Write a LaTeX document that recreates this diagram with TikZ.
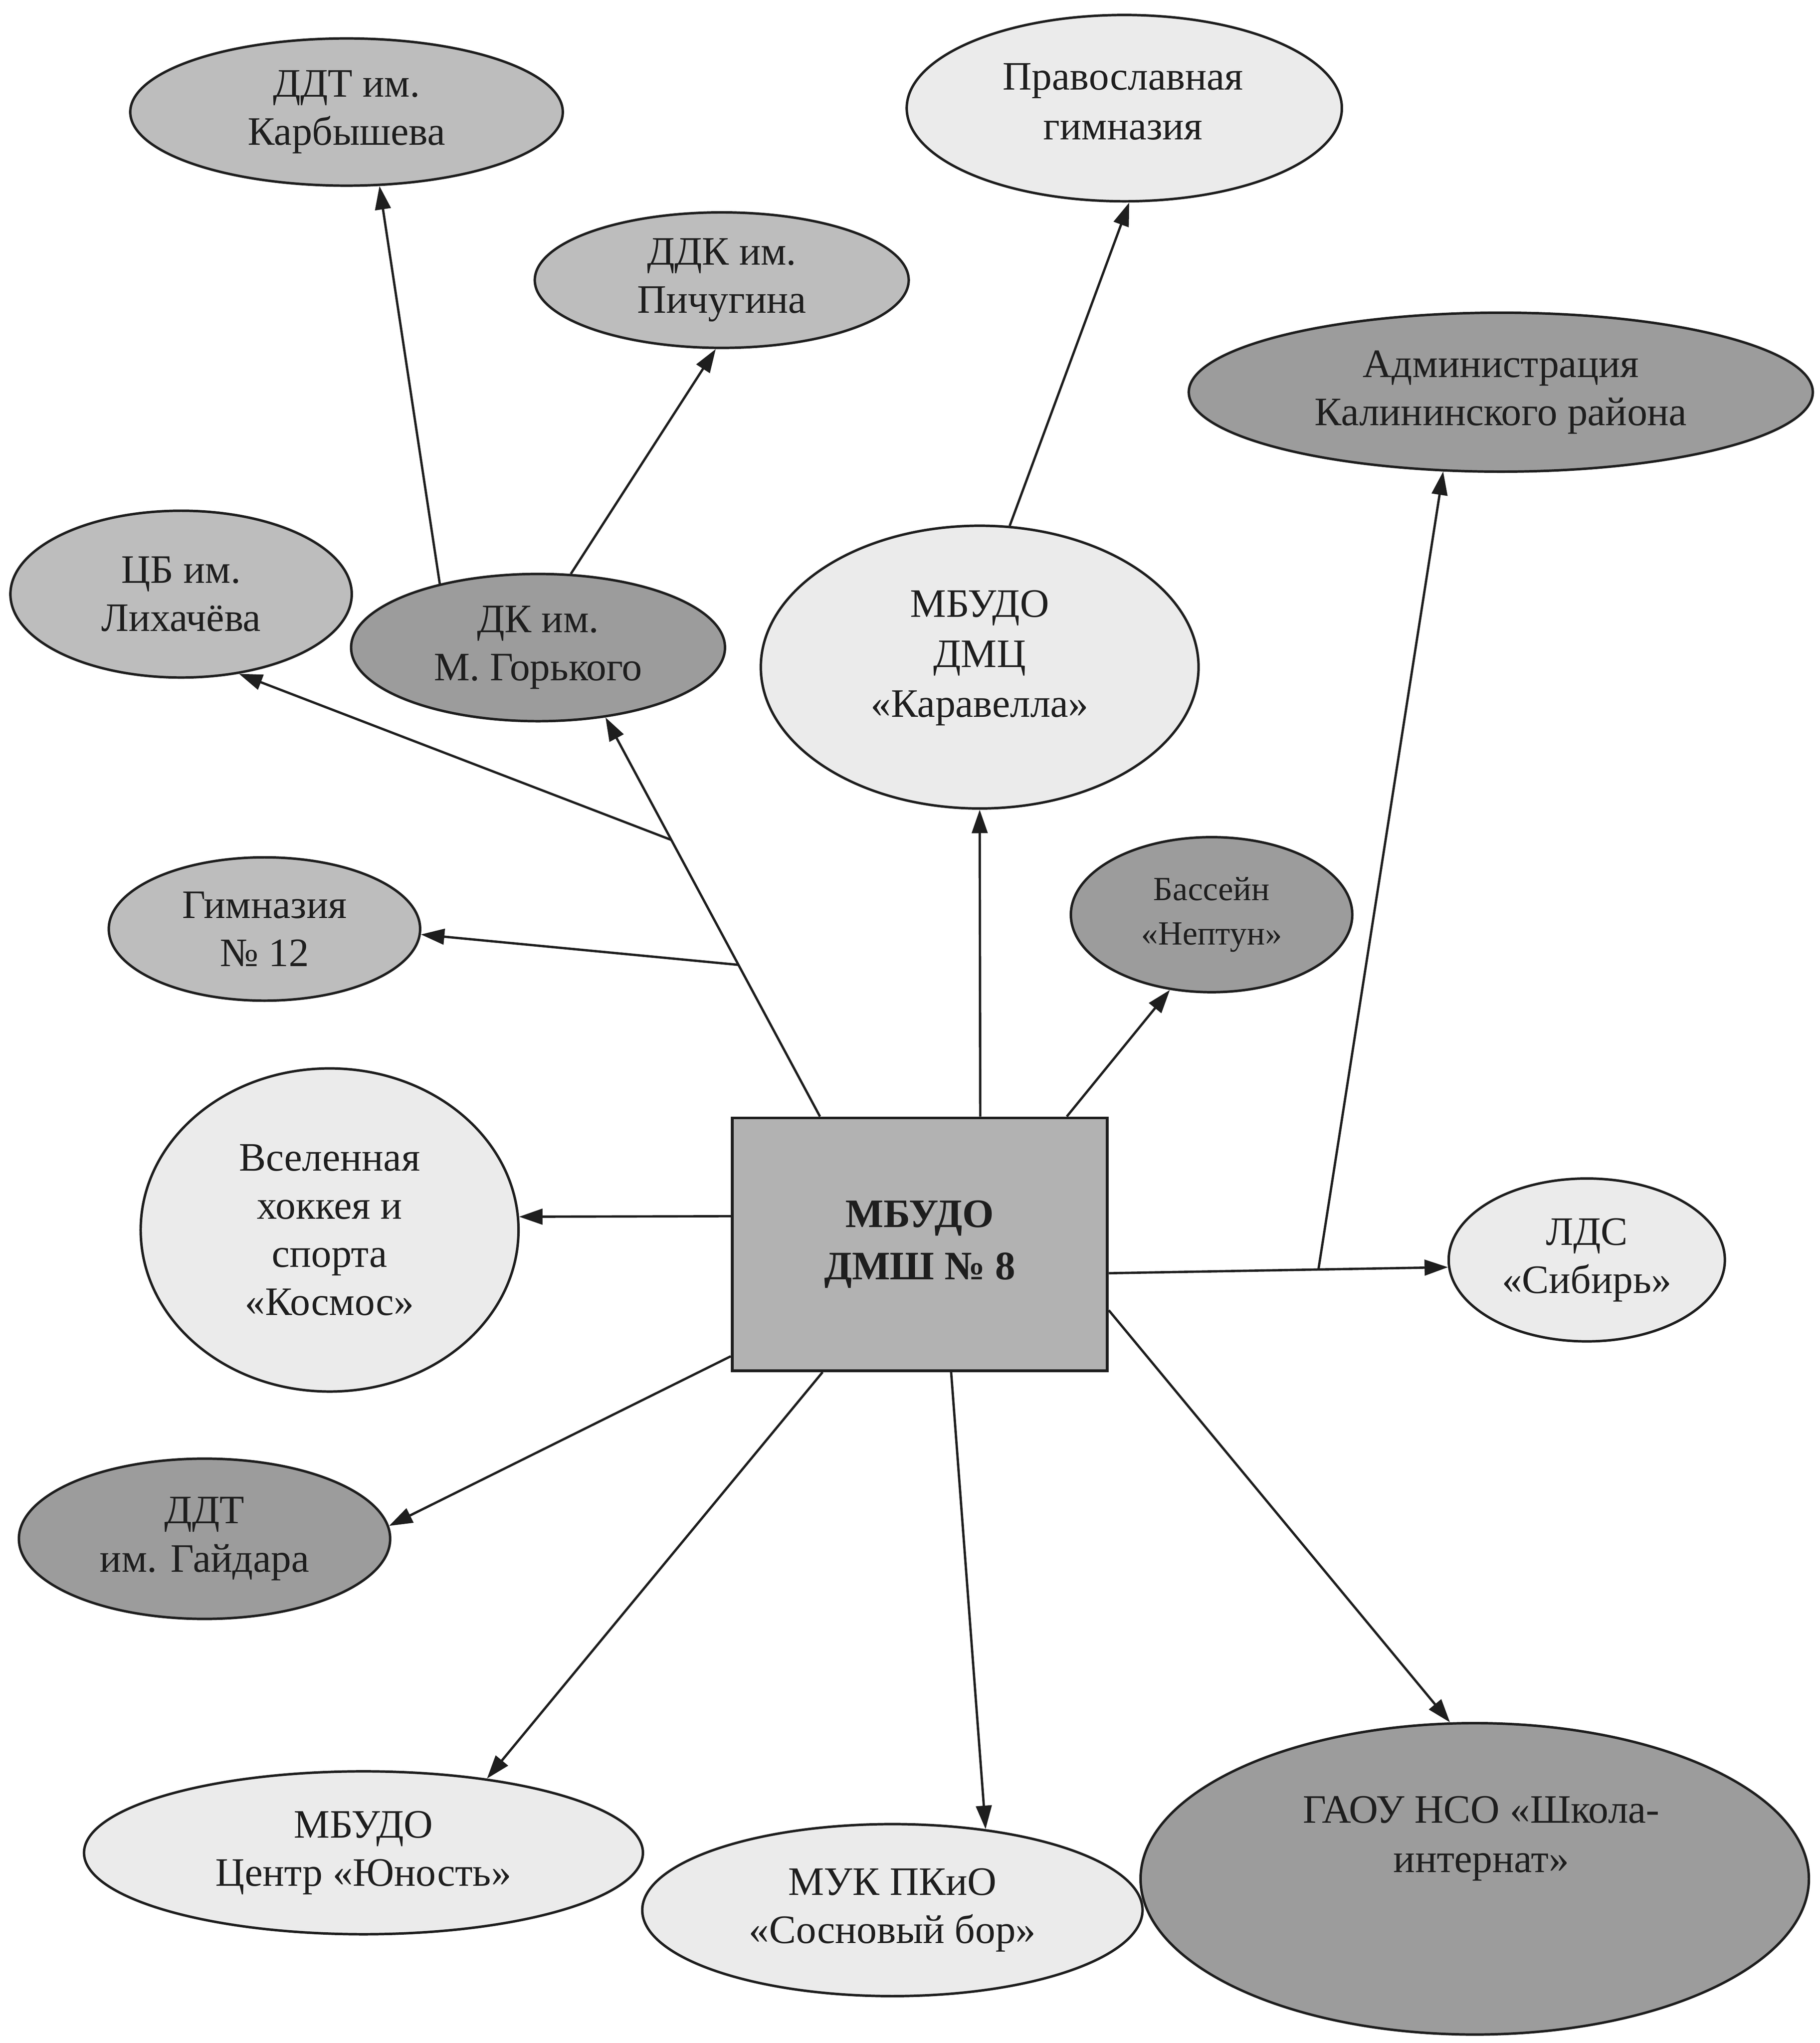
\documentclass[tikz,border=0pt]{standalone}
\usepackage{fontspec}
\setmainfont{Liberation Serif}
\usetikzlibrary{shapes.geometric,arrows.meta,calc}
\definecolor{glight}{HTML}{EBEBEB}
\definecolor{gmid}{HTML}{BDBDBD}
\definecolor{gdark}{HTML}{9C9C9C}
\definecolor{grect}{HTML}{B2B2B2}
\definecolor{ink}{HTML}{1E1E1E}
\tikzset{
  org/.style={ellipse, draw=ink, line width=1.9pt, inner sep=0pt, align=center,
    text=ink, font=\fontsize{31}{37}\selectfont},
  lightfill/.style={org, fill=glight},
  midfill/.style={org, fill=gmid},
  darkfill/.style={org, fill=gdark},
  arr/.style={draw=ink, line width=1.8pt, -{Triangle[length=18pt,width=12pt]}},
}
\begin{document}
\begin{tikzpicture}[x=1pt,y=-1pt]
\fill[white] (0,0) rectangle (1397,1568);
\useasboundingbox (0,0) rectangle (1397,1568);

% nodes
\node[midfill, minimum width=332pt, minimum height=113pt] (kar) at (266,86) {ДДТ им.\\Карбышева};
\node[midfill, minimum width=287pt, minimum height=104pt] (pich) at (554,215) {ДДК им.\\Пичугина};
\node[lightfill, minimum width=334pt, minimum height=143pt] (prav) at (863,83) {};
\node[align=center, text=ink, font=\fontsize{31}{38}\selectfont, inner sep=0pt] (pravtext) at (862,78) {Православная\\гимназия};
\node[darkfill, minimum width=479pt, minimum height=122pt] (adm) at (1152,301) {Администрация\\Калининского района};
\node[midfill, minimum width=262pt, minimum height=128pt] (cb) at (139,456) {ЦБ им.\\Лихачёва};
\node[darkfill, minimum width=287pt, minimum height=113pt] (dkg) at (413,497) {ДК им.\\М. Горького};
\node[lightfill, minimum width=336pt, minimum height=217pt] (dmc) at (752,512) {};
\node[align=center, text=ink, font=\fontsize{31}{38.5}\selectfont, inner sep=0pt] (dmctext) at (752,505) {МБУДО\\ДМЦ\\«Каравелла»};
\node[darkfill, minimum width=216pt, minimum height=119pt, font=\fontsize{26}{34}\selectfont] (bas) at (930,702) {Бассейн\\«Нептун»};
\node[midfill, minimum width=239pt, minimum height=110pt] (gim) at (203,713) {Гимназия\\№ 12};
\node[lightfill, minimum width=290pt, minimum height=248pt, font=\fontsize{31}{37}\selectfont] (kos) at (253,944) {Вселенная\\хоккея и\\спорта\\«Космос»};
\node[lightfill, minimum width=212pt, minimum height=125pt] (lds) at (1218,967) {ЛДС\\«Сибирь»};
\node[darkfill, minimum width=285pt, minimum height=123pt] (gai) at (157,1181) {ДДТ\\им. Гайдара};
\node[lightfill, minimum width=429pt, minimum height=125pt] (yun) at (279,1422) {МБУДО\\Центр «Юность»};
\node[lightfill, minimum width=384pt, minimum height=132pt] (muk) at (685,1466) {МУК ПКиО\\«Сосновый бор»};
\node[darkfill, minimum width=513pt, minimum height=239pt] (gaou) at (1132,1442) {};
\node[align=center, text=ink, font=\fontsize{31}{38}\selectfont, inner sep=0pt] (gaoutext) at (1137,1411) {ГАОУ НСО «Школа-\\интернат»};

\node[draw=ink, line width=2.2pt, fill=grect, minimum width=288pt, minimum height=194pt,
  inner sep=0pt, align=center, text=ink, font=\fontsize{31}{40}\selectfont\bfseries] (main) at (706,955) {МБУДО\\ДМШ № 8};

% start coordinates on the central box
\coordinate (sGor) at ($(main.north west)!0.236!(main.north east)$);
\coordinate (sDmc) at ($(main.north west)!0.66!(main.north east)$);
\coordinate (sBas) at ($(main.north west)!0.889!(main.north east)$);
\coordinate (sLds) at ($(main.north east)!0.613!(main.south east)$);
\coordinate (sGaou) at ($(main.north east)!0.758!(main.south east)$);
\coordinate (sMuk) at ($(main.south west)!0.583!(main.south east)$);
\coordinate (sYun) at ($(main.south west)!0.243!(main.south east)$);
\coordinate (sGai) at ($(main.north west)!0.938!(main.south west)$);
\coordinate (sKos) at ($(main.north west)!0.39!(main.south west)$);

% connectors
\draw[arr] (sGor) -- (dkg.-46.5);
\coordinate (bCb) at ($(sGor)!0.693!(dkg.-46.5)$);
\coordinate (bGim) at ($(sGor)!0.38!(dkg.-46.5)$);
\draw[arr] (bCb) -- (cb.-54);
\draw[arr] (bGim) -- (gim.-2);
\draw[arr] (dkg.147) -- (kar.-66);
\draw[arr] (dkg.66) -- (pich.-95);
\draw[arr] (dmc.78.6) -- (prav.-87);
\draw[arr] (sDmc) -- (dmc.-90);
\draw[arr] (sBas) -- (bas.-119);
\draw[arr] (sLds) -- (lds.-177);
\coordinate (bAdm) at ($(sLds)!0.618!(lds.-177)$);
\draw[arr] (bAdm) -- (adm.-126);
\draw[arr] (sGaou) -- (gaou.99);
\draw[arr] (sMuk) -- (muk.41.6);
\draw[arr] (sYun) -- (yun.31);
\draw[arr] (sGai) -- (gai.4);
\draw[arr] (sKos) -- (kos.4);
\end{tikzpicture}
\end{document}
